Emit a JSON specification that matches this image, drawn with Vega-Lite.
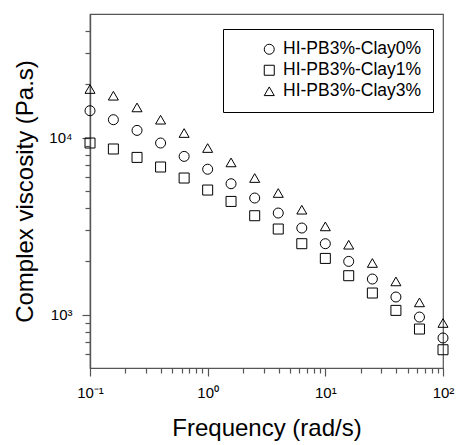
{
  "$schema": "https://vega.github.io/schema/vega-lite/v6.json",
  "width": 353,
  "height": 354,
  "autosize": "none",
  "padding": {"left": 90, "top": 14, "right": 16, "bottom": 77},
  "background": "white",
  "config": {
    "font": "Liberation Sans",
    "view": {"stroke": "#555555", "strokeWidth": 1.2},
    "axis": {"domainColor": "#555555", "tickColor": "#555555", "domainWidth": 1.2, "tickWidth": 1.2, "grid": false, "labelColor": "black", "titleColor": "black", "labelFont": "Liberation Sans", "titleFont": "Liberation Sans", "titleFontWeight": "normal"}
  },
  "data": {
    "values": [
      {"f": 0.1, "v": 14210, "s": "HI-PB3%-Clay0%"},
      {"f": 0.158, "v": 12640, "s": "HI-PB3%-Clay0%"},
      {"f": 0.251, "v": 11000, "s": "HI-PB3%-Clay0%"},
      {"f": 0.398, "v": 9333, "s": "HI-PB3%-Clay0%"},
      {"f": 0.631, "v": 7844, "s": "HI-PB3%-Clay0%"},
      {"f": 1.0, "v": 6637, "s": "HI-PB3%-Clay0%"},
      {"f": 1.58, "v": 5497, "s": "HI-PB3%-Clay0%"},
      {"f": 2.51, "v": 4563, "s": "HI-PB3%-Clay0%"},
      {"f": 3.98, "v": 3754, "s": "HI-PB3%-Clay0%"},
      {"f": 6.31, "v": 3089, "s": "HI-PB3%-Clay0%"},
      {"f": 10.0, "v": 2519, "s": "HI-PB3%-Clay0%"},
      {"f": 15.8, "v": 2001, "s": "HI-PB3%-Clay0%"},
      {"f": 25.1, "v": 1591, "s": "HI-PB3%-Clay0%"},
      {"f": 39.8, "v": 1259, "s": "HI-PB3%-Clay0%"},
      {"f": 63.1, "v": 970, "s": "HI-PB3%-Clay0%"},
      {"f": 100.0, "v": 739, "s": "HI-PB3%-Clay0%"},
      {"f": 0.1, "v": 9333, "s": "HI-PB3%-Clay1%"},
      {"f": 0.158, "v": 8635, "s": "HI-PB3%-Clay1%"},
      {"f": 0.251, "v": 7742, "s": "HI-PB3%-Clay1%"},
      {"f": 0.398, "v": 6831, "s": "HI-PB3%-Clay1%"},
      {"f": 0.631, "v": 5920, "s": "HI-PB3%-Clay1%"},
      {"f": 1.0, "v": 5063, "s": "HI-PB3%-Clay1%"},
      {"f": 1.58, "v": 4366, "s": "HI-PB3%-Clay1%"},
      {"f": 2.51, "v": 3625, "s": "HI-PB3%-Clay1%"},
      {"f": 3.98, "v": 3049, "s": "HI-PB3%-Clay1%"},
      {"f": 6.31, "v": 2519, "s": "HI-PB3%-Clay1%"},
      {"f": 10.0, "v": 2080, "s": "HI-PB3%-Clay1%"},
      {"f": 15.8, "v": 1661, "s": "HI-PB3%-Clay1%"},
      {"f": 25.1, "v": 1326, "s": "HI-PB3%-Clay1%"},
      {"f": 39.8, "v": 1058, "s": "HI-PB3%-Clay1%"},
      {"f": 63.1, "v": 830, "s": "HI-PB3%-Clay1%"},
      {"f": 100.0, "v": 634, "s": "HI-PB3%-Clay1%"},
      {"f": 0.1, "v": 18840, "s": "HI-PB3%-Clay3%"},
      {"f": 0.158, "v": 17270, "s": "HI-PB3%-Clay3%"},
      {"f": 0.251, "v": 14830, "s": "HI-PB3%-Clay3%"},
      {"f": 0.398, "v": 12640, "s": "HI-PB3%-Clay3%"},
      {"f": 0.631, "v": 10630, "s": "HI-PB3%-Clay3%"},
      {"f": 1.0, "v": 8745, "s": "HI-PB3%-Clay3%"},
      {"f": 1.58, "v": 7253, "s": "HI-PB3%-Clay3%"},
      {"f": 2.51, "v": 5920, "s": "HI-PB3%-Clay3%"},
      {"f": 3.98, "v": 4871, "s": "HI-PB3%-Clay3%"},
      {"f": 6.31, "v": 3920, "s": "HI-PB3%-Clay3%"},
      {"f": 10.0, "v": 3155, "s": "HI-PB3%-Clay3%"},
      {"f": 15.8, "v": 2486, "s": "HI-PB3%-Clay3%"},
      {"f": 25.1, "v": 1960, "s": "HI-PB3%-Clay3%"},
      {"f": 39.8, "v": 1542, "s": "HI-PB3%-Clay3%"},
      {"f": 63.1, "v": 1174, "s": "HI-PB3%-Clay3%"},
      {"f": 100.0, "v": 898, "s": "HI-PB3%-Clay3%"}
    ]
  },
  "layer": [
    {
      "mark": {"type": "point", "filled": false, "color": "black", "strokeWidth": 1, "size": 100, "opacity": 1, "clip": false},
      "encoding": {
        "x": {
          "field": "f", "type": "quantitative",
          "scale": {"type": "log", "domain": [0.1, 100], "nice": false},
          "axis": {
            "orient": "bottom",
            "title": null,
            "values": [0.2,0.3,0.4,0.5,0.6,0.7,0.8,0.9,2,3,4,5,6,7,8,9,20,30,40,50,60,70,80,90],
            "tickSize": 5,
            "labels": false
          }
        },
        "y": {
          "field": "v", "type": "quantitative",
          "scale": {"type": "log", "domain": [500, 50000], "nice": false},
          "axis": {
            "orient": "left",
            "title": null,
            "values": [600,700,800,900,2000,3000,4000,5000,6000,7000,8000,9000,20000,30000,40000],
            "tickSize": 5,
            "labels": false
          }
        },
        "shape": {
          "field": "s", "type": "nominal",
          "scale": {"domain": ["HI-PB3%-Clay0%", "HI-PB3%-Clay1%", "HI-PB3%-Clay3%"], "range": ["circle", "square", "triangle-up"]},
          "legend": {
            "title": null,
            "orient": "none",
            "legendX": 133,
            "legendY": 15,
            "padding": 11.5,
            "strokeColor": "black",
            "fillColor": "white",
            "symbolOffset": 26,
            "symbolSize": 100,
            "symbolStrokeColor": "black",
            "symbolFillColor": "transparent",
            "symbolStrokeWidth": 1,
            "labelFont": "Liberation Sans",
            "labelFontSize": 17.5,
            "labelColor": "black",
            "labelOffset": 5,
            "rowPadding": 2
          }
        }
      }
    },
    {
      "mark": {"type": "point", "filled": false, "color": "black", "size": 100, "opacity": 0, "clip": false},
      "encoding": {
        "x": {
          "field": "f", "type": "quantitative",
          "axis": {
            "orient": "bottom",
            "title": "Frequency (rad/s)",
            "titleFontSize": 24,
            "titleBaseline": "alphabetic",
            "titleX": 176.5,
            "titleY": 67,
            "values": [0.1, 1, 10, 100],
            "tickSize": 8,
            "labelExpr": "datum.value == 0.1 ? '10⁻¹' : datum.value == 1 ? '10⁰' : datum.value == 10 ? '10¹' : '10²'",
            "labelFontSize": 15,
            "labelPadding": 9,
            "labelOverlap": false,
            "labelBound": false,
            "labelFlush": false
          }
        },
        "y": {
          "field": "v", "type": "quantitative",
          "axis": {
            "orient": "left",
            "title": "Complex viscosity (Pa.s)",
            "titleFontSize": 24,
            "titleBaseline": "alphabetic",
            "titleX": -58,
            "titleY": 177,
            "values": [1000, 10000],
            "tickSize": 8,
            "labelExpr": "datum.value == 1000 ? '10³' : '10⁴'",
            "labelFontSize": 15,
            "labelPadding": 10,
            "labelOverlap": false,
            "labelBound": false,
            "labelFlush": false
          }
        }
      }
    }
  ],
  "resolve": {"axis": {"x": "independent", "y": "independent"}}
}
